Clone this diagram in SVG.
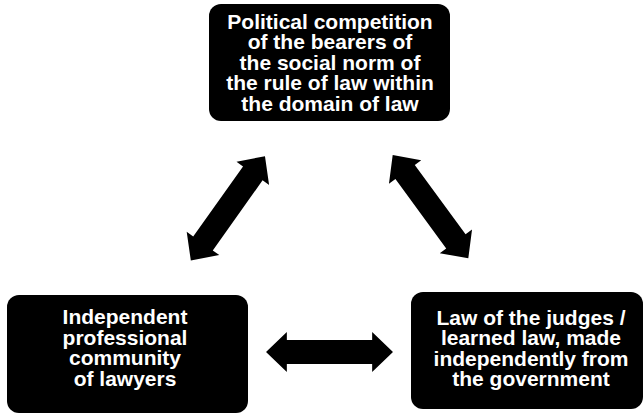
<svg xmlns="http://www.w3.org/2000/svg" width="644" height="415" viewBox="0 0 644 415">
<style>
.box{fill:#000;}
.lbl{fill:#fff;font-family:"Liberation Sans",Arial,Helvetica,sans-serif;font-weight:bold;font-size:21px;text-anchor:middle;}
.arr{fill:#000;}
</style>
<defs>
<path id="dblarrow" d="M -64,0 L -43,-20 L -43,-12 L 43,-12 L 43,-20 L 64,0 L 43,20 L 43,12 L -43,12 L -43,20 Z"/>
</defs>
<rect width="644" height="415" fill="#fff"/>
<g id="connectors" class="arr">
<use href="#dblarrow" transform="translate(227.9,208.4) rotate(-54.6)"/>
<use href="#dblarrow" transform="translate(430.5,206.7) rotate(53.8)"/>
<use href="#dblarrow" transform="translate(329.5,352) scale(0.992,1)"/>
</g>
<g id="node-top">
<rect class="box" x="209" y="4" width="241" height="117" rx="12"/>
<text class="lbl" x="330" y="28.5">Political competition</text>
<text class="lbl" x="330" y="49">of the bearers of</text>
<text class="lbl" x="330" y="69.5">the social norm of</text>
<text class="lbl" x="330" y="90">the rule of law within</text>
<text class="lbl" x="330" y="110.5">the domain of law</text>
</g>
<g id="node-left">
<rect class="box" x="7" y="295" width="241" height="118" rx="12"/>
<text class="lbl" x="125" y="324">Independent</text>
<text class="lbl" x="125" y="344.7">professional</text>
<text class="lbl" x="125" y="365.4">community</text>
<text class="lbl" x="125" y="386">of lawyers</text>
</g>
<g id="node-right">
<rect class="box" x="411" y="292" width="232" height="117" rx="12"/>
<text class="lbl" x="531" y="325">Law of the judges /</text>
<text class="lbl" x="531" y="345.3">learned law, made</text>
<text class="lbl" x="531" y="365.6">independently from</text>
<text class="lbl" x="531" y="386">the government</text>
</g>
</svg>
